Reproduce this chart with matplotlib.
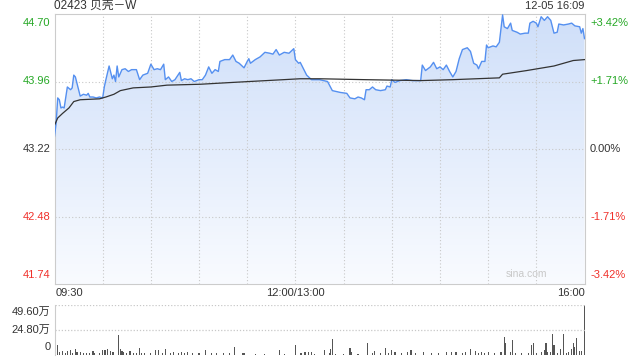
import numpy as np
import matplotlib
matplotlib.use("Agg")
import matplotlib.pyplot as plt
from matplotlib.colors import LinearSegmentedColormap

# intraday data, minutes from 09:30 (lunch break removed, 150 = 12:00/13:00)
price_min = [0, 1, 2, 3, 4, 5, 6, 8, 10, 11, 12, 13, 15, 16, 18, 20, 21, 22, 24, 26, 28, 30,
             31, 32, 34, 36, 37, 38, 39, 40, 42, 44, 46, 48, 51, 53, 55, 58, 60, 62, 64, 66,
             68, 69, 71, 73, 75, 78, 79, 81, 83, 85, 87, 90, 92, 94, 96, 98, 100, 102, 103,
             106, 109, 111, 113, 115, 118, 120, 121, 122, 125, 128, 131, 134, 136, 138, 140,
             143, 146, 149, 150, 152, 153, 155, 157, 160, 165, 170, 173, 178, 182, 184, 187,
             189, 191, 193, 194, 196, 198, 200, 203, 206, 207, 209, 210, 212, 215, 219, 223,
             228, 229, 231, 234, 236, 238, 240, 242, 244, 246, 248, 250, 252, 254, 257, 259,
             261, 263, 264, 266, 268, 269, 270, 273, 275, 277, 279, 280, 282, 284, 285, 288,
             290, 293, 295, 296, 298, 300, 301, 303, 305, 307, 309, 311, 313, 314, 317, 320,
             322, 324, 327, 328, 329, 330]
price = [43.36, 43.50, 43.78, 43.76, 43.67, 43.68, 43.67, 43.90, 43.87, 43.89, 44.03, 44.01,
         43.87, 43.80, 43.82, 43.81, 43.83, 43.79, 43.79, 43.78, 43.79, 43.78, 43.90, 43.98,
         44.13, 43.99, 44.03, 43.96, 44.13, 44.01, 44.09, 44.10, 44.07, 44.09, 44.09, 43.98,
         44.03, 44.05, 44.15, 44.09, 44.10, 44.09, 44.15, 43.98, 44.01, 43.96, 43.98, 44.06,
         43.97, 43.99, 43.98, 43.99, 43.96, 43.98, 43.98, 44.03, 44.12, 44.05, 44.09, 44.07,
         44.18, 44.20, 44.20, 44.25, 44.18, 44.16, 44.11, 44.18, 44.21, 44.16, 44.20, 44.23,
         44.28, 44.27, 44.26, 44.31, 44.25, 44.28, 44.27, 44.32, 44.20, 44.16, 44.17, 44.10,
         44.03, 43.98, 43.98, 43.96, 43.86, 43.84, 43.83, 43.78, 43.77, 43.79, 43.78, 43.76,
         43.87, 43.87, 43.90, 43.87, 43.86, 43.87, 43.91, 43.90, 43.98, 43.95, 43.97, 43.98,
         43.97, 43.97, 44.14, 44.08, 44.12, 44.17, 44.10, 44.12, 44.09, 44.14, 44.07, 44.01,
         44.07, 44.21, 44.31, 44.33, 44.29, 44.16, 44.14, 44.10, 44.18, 44.18, 44.36, 44.33,
         44.35, 44.34, 44.39, 44.69, 44.56, 44.54, 44.60, 44.52, 44.50, 44.48, 44.49, 44.49,
         44.60, 44.62, 44.60, 44.56, 44.67, 44.63, 44.67, 44.63, 44.49, 44.50, 44.59, 44.58,
         44.59, 44.60, 44.57, 44.56, 44.49, 44.54, 44.43]

avg_min = [0, 2, 5, 9, 12, 16, 28, 32, 37, 41, 49, 60, 70, 91, 111, 132, 153, 165, 194,
           228, 248, 277, 279, 294, 311, 323, 330]
avg_price = [43.48, 43.56, 43.61, 43.67, 43.74, 43.76, 43.77, 43.79, 43.82, 43.86, 43.89,
             43.90, 43.92, 43.93, 43.95, 43.97, 43.99, 43.99, 43.98, 43.97, 43.98, 44.00,
             44.04, 44.08, 44.13, 44.19, 44.20]

# volume in 万 shares
vol_min = [0, 2, 3, 5, 7, 8, 10, 11, 13, 14, 16, 18, 20, 22, 24, 25, 28, 30, 31, 32, 33, 35,
           36, 37, 40, 41, 42, 43, 45, 47, 49, 51, 53, 54, 56, 60, 63, 65, 67, 69, 72, 74,
           77, 79, 81, 83, 86, 90, 94, 98, 101, 105, 109, 112, 117, 118, 125, 131, 140, 143,
           150, 153, 154, 156, 158, 160, 162, 168, 171, 172, 173, 175, 180, 184, 185, 189,
           195, 198, 199, 203, 206, 208, 210, 212, 216, 220, 222, 225, 230, 235, 239, 244,
           247, 250, 254, 256, 259, 262, 264, 266, 268, 270, 274, 278, 280, 281, 284, 285,
           287, 291, 295, 297, 298, 300, 303, 305, 306, 307, 309, 310, 311, 313, 315, 317,
           319, 320, 322, 323, 324, 325, 327, 328, 330]
vol = [8, 10, 3.3, 4, 1.7, 4.3, 5, 2.3, 6, 3.3, 2.7, 1.7, 2.3, 1.5, 4, 1.5, 1.5, 5, 5, 5, 6,
       4, 2.7, 3.3, 20, 5.7, 4, 3.3, 1.7, 4, 1.7, 1.7, 7.3, 2.3, 1.7, 1.7, 5, 5, 1.7, 6, 1.7,
       3.3, 1.7, 2.7, 1.7, 2.7, 1.7, 1.7, 5, 2.3, 1.7, 1.7, 1.7, 8.3, 2.3, 1.7, 1, 1, 5, 1,
       10, 2.3, 1.7, 3.3, 3, 2.7, 1, 5, 1.7, 5.7, 16, 1, 0.7, 6.7, 2.7, 1, 12.3, 2.3, 4, 1.7,
       6.7, 2.3, 5, 2.7, 1.7, 2.7, 5, 1.7, 2.7, 1.7, 1.7, 2.7, 3.3, 3.3, 1.7, 2.7, 5.7, 4,
       2.3, 3.3, 1.7, 2.7, 1.7, 2.7, 17.7, 12.3, 3.3, 15, 1.7, 1.7, 2.3, 10, 12.3, 2.3, 3.3,
       5, 12.3, 3.3, 3.3, 21, 10, 2.3, 5.7, 21, 1.7, 2.7, 5.7, 12.3, 8.3, 16.7, 4, 4, 50]

prev_close = 43.22
price_ticks = [44.70, 43.96, 43.22, 42.48, 41.74]
pct_labels = ["+3.42%", "+1.71%", "0.00%", "-1.71%", "-3.42%"]
vol_ticks = [0, 24.80, 49.60]
vol_labels = ["0", "24.80万", "49.60万"]

GREEN = "#25a825"
RED = "#f0302a"
DARK = "#333333"
GRID = "#c8c8c8"
cjk = ["Liberation Sans", "Noto Sans CJK SC"]

fig = plt.figure(figsize=(6.4, 3.6), dpi=100)
ax = fig.add_axes([54.5 / 640, 1 - 284 / 360, 530 / 640, 270 / 360])
axv = fig.add_axes([54.5 / 640, 1 - 355 / 360, 530 / 640, 50 / 360])

ax.set_xlim(0, 330)
ax.set_ylim(price_ticks[-1], price_ticks[0])

# gradient area under the price line
poly = ax.fill_between(price_min, price, price_ticks[-1], color="none", lw=0)
cmap = LinearSegmentedColormap.from_list("g", ["#f9fbff", "#cfdff9"])
grad = np.linspace(0, 1, 256).reshape(-1, 1)
im = ax.imshow(grad, cmap=cmap, aspect="auto", origin="lower",
               extent=[0, 330, price_ticks[-1], price_ticks[0]], zorder=1)
im.set_clip_path(poly.get_paths()[0], transform=ax.transData)

ax.plot(price_min, price, color="#5590f0", lw=1.0, zorder=3)
ax.plot(avg_min, avg_price, color=DARK, lw=0.9, zorder=3)

for t in range(30, 330, 30):
    ax.axvline(t, color=GRID, lw=0.8, ls=(0, (1, 2)), zorder=2)
for p in price_ticks[1:-1]:
    ax.axhline(p, color=GRID, lw=0.8, ls=(0, (1, 2)), zorder=2)
for s in ax.spines.values():
    s.set_color("#cccccc")
ax.set_xticks([])
ax.set_yticks([])

colors = [GREEN, GREEN, DARK, RED, RED]
vas = ["top", "center", "center", "center", "bottom"]
offs = [-3, 0, 0, 0, 3]
ytr = ax.get_yaxis_transform()
for p, lab, c, va, o in zip(price_ticks, pct_labels, colors, vas, offs):
    ax.annotate(f"{p:.2f}", xy=(0, p), xycoords=ytr, xytext=(-3, o),
                textcoords="offset points", ha="right", va=va, color=c,
                fontsize=8, family="Liberation Sans")
    ax.annotate(lab, xy=(1, p), xycoords=ytr, xytext=(4, o),
                textcoords="offset points", ha="left", va=va, color=c,
                fontsize=8, family="Liberation Sans")

ax.text(0, 1.01, "02423 贝壳－W", transform=ax.transAxes, ha="left", va="bottom",
        fontsize=8.5, family=cjk, color=DARK)
ax.text(1, 1.01, "12-05 16:09", transform=ax.transAxes, ha="right", va="bottom",
        fontsize=8, family="Liberation Sans", color=DARK)
ax.text(0.002, -0.033, "09:30", transform=ax.transAxes, ha="left", va="center",
        fontsize=8, family="Liberation Sans", color=DARK)
ax.text(150 / 330, -0.033, "12:00/13:00", transform=ax.transAxes, ha="center",
        va="center", fontsize=8, family="Liberation Sans", color=DARK)
ax.text(1, -0.033, "16:00", transform=ax.transAxes, ha="right", va="center",
        fontsize=8, family="Liberation Sans", color=DARK)
ax.text(0.93, 0.02, "sina.com", transform=ax.transAxes, ha="right", va="bottom",
        fontsize=7.5, family="Liberation Sans", color="#c8c8c8")

# volume panel
axv.bar(vol_min, vol, width=0.7, color="#555555")
axv.set_xlim(0, 330)
axv.set_ylim(0, 49.6)
for v in vol_ticks[1:]:
    axv.axhline(v, color=GRID, lw=0.9, ls=(0, (1, 1.5)))
for side in ["top", "right", "bottom"]:
    axv.spines[side].set_visible(False)
axv.spines["left"].set_color("#cccccc")
axv.set_xticks([])
axv.set_yticks([])
vvas = ["bottom", "center", "top"]
voffs = [2, 0, -1.5]
vtr = axv.get_yaxis_transform()
for v, lab, va, o in zip(vol_ticks, vol_labels, vvas, voffs):
    axv.annotate(lab, xy=(0, v), xycoords=vtr, xytext=(-3, o),
                 textcoords="offset points", ha="right", va=va,
                 fontsize=8, family=cjk, color=DARK)

fig.savefig("out.png", dpi=100)
